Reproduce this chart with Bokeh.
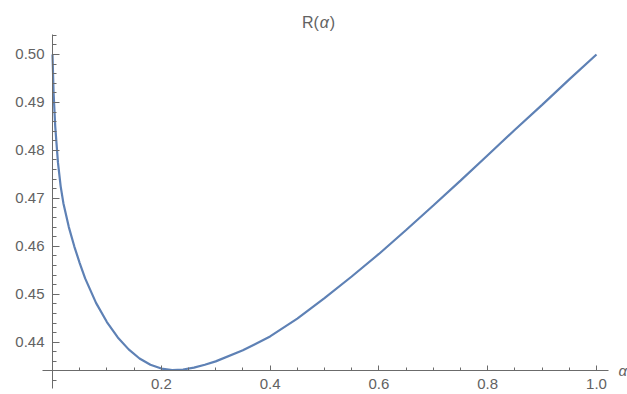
from bokeh.plotting import figure
from bokeh.models import (LinearAxis, FixedTicker, PrintfTickFormatter, Range1d,
                          Label)
from bokeh.embed import file_html
from bokeh.resources import INLINE

# ---- data ----
alpha = [0.0, 0.002, 0.005, 0.01, 0.015, 0.02, 0.03, 0.04, 0.05, 0.06, 0.08,
         0.10, 0.12, 0.14, 0.16, 0.18, 0.20, 0.22, 0.24, 0.26, 0.28, 0.30,
         0.35, 0.40, 0.45, 0.50, 0.55, 0.60, 0.65, 0.70, 0.75, 0.80, 0.85,
         0.90, 0.95, 1.00]
R = [0.5000, 0.4920, 0.4850, 0.4775, 0.4725, 0.4690, 0.4640, 0.4600, 0.4565,
     0.4533, 0.4482, 0.4442, 0.4410, 0.4385, 0.4366, 0.4353, 0.4345, 0.4342,
     0.4343, 0.4347, 0.4353, 0.4360, 0.4383, 0.4412, 0.4449, 0.4492, 0.4537,
     0.4584, 0.4634, 0.4685, 0.4737, 0.4790, 0.4843, 0.4895, 0.4948, 0.5000]

x_major = [0.2, 0.4, 0.6, 0.8, 1.0]
x_minor = [0.05, 0.1, 0.15, 0.25, 0.3, 0.35, 0.45, 0.5, 0.55, 0.65, 0.7, 0.75,
           0.85, 0.9, 0.95]
y_major = [0.44, 0.45, 0.46, 0.47, 0.48, 0.49, 0.50]
y_minor = [0.432, 0.434, 0.436, 0.438, 0.442, 0.444, 0.446, 0.448, 0.452,
           0.454, 0.456, 0.458, 0.462, 0.464, 0.466, 0.468, 0.472, 0.474,
           0.476, 0.478, 0.482, 0.484, 0.486, 0.488, 0.492, 0.494, 0.496,
           0.498, 0.502, 0.504]

# visible extent of the two axis lines (Mathematica-style crossing axes)
x_axis_bounds = (-0.018, 1.022)
y_axis_bounds = (0.4303, 0.5041)
x_axis_at = 0.4341   # height at which the horizontal axis is drawn
y_axis_at = 0.0      # position at which the vertical axis is drawn

# plotting window (frame covers the whole canvas)
x_start, x_end = -0.0956, 1.0570
y_start, y_end = 0.42909, 0.51126

title_parts = ["R(", "α", ")"]
title_pos = (0.495, 0.5067)
x_name = "α"

AXIS_COLOR = "#6b6b6b"
LABEL_COLOR = "#626262"
LINE_COLOR = "#5E81B5"
FONT = "Liberation Sans"

p = figure(width=627, height=394, output_backend="svg", toolbar_location=None,
           x_axis_type=None, y_axis_type=None,
           x_range=Range1d(x_start, x_end), y_range=Range1d(y_start, y_end),
           min_border=0, outline_line_color=None)
p.grid.visible = False
p.background_fill_color = "white"
p.border_fill_color = "white"

xax = LinearAxis(fixed_location=x_axis_at, bounds=x_axis_bounds,
                 ticker=FixedTicker(ticks=x_major, minor_ticks=x_minor),
                 formatter=PrintfTickFormatter(format="%.1f"))
yax = LinearAxis(fixed_location=y_axis_at, bounds=y_axis_bounds,
                 ticker=FixedTicker(ticks=y_major, minor_ticks=y_minor),
                 formatter=PrintfTickFormatter(format="%.2f"))
for ax in (xax, yax):
    ax.axis_line_color = AXIS_COLOR
    ax.major_tick_line_color = AXIS_COLOR
    ax.minor_tick_line_color = AXIS_COLOR
    ax.major_tick_in = 5
    ax.major_tick_out = 0
    ax.minor_tick_in = 3
    ax.minor_tick_out = 0
    ax.major_label_text_font = FONT
    ax.major_label_text_font_size = "15px"
    ax.major_label_text_color = LABEL_COLOR
xax.major_label_standoff = 9
yax.major_label_standoff = 8
yax.major_tick_in = 7
yax.minor_tick_in = 4
p.add_layout(xax, "below")
p.add_layout(yax, "left")

p.line(alpha, R, line_color=LINE_COLOR, line_width=2.2)

p.add_layout(Label(x=x_axis_bounds[1], y=x_axis_at, text=x_name, x_offset=10,
                   text_font=FONT, text_font_size="15px", text_font_style="italic",
                   text_color=LABEL_COLOR, text_baseline="middle"))

# title "R(α)" with an italic α
p.add_layout(Label(x=title_pos[0], y=title_pos[1], text=title_parts[0],
                   x_offset=-3, text_font=FONT, text_font_size="16px",
                   text_color=LABEL_COLOR, text_align="right",
                   text_baseline="middle"))
p.add_layout(Label(x=title_pos[0], y=title_pos[1], text=title_parts[1],
                   x_offset=-2, text_font=FONT, text_font_size="16px",
                   text_font_style="italic",
                   text_color=LABEL_COLOR, text_align="left",
                   text_baseline="middle"))
p.add_layout(Label(x=title_pos[0], y=title_pos[1], text=title_parts[2],
                   x_offset=8, text_font=FONT, text_font_size="16px",
                   text_color=LABEL_COLOR, text_align="left",
                   text_baseline="middle"))

open("out.html", "w").write(file_html(p, INLINE))
